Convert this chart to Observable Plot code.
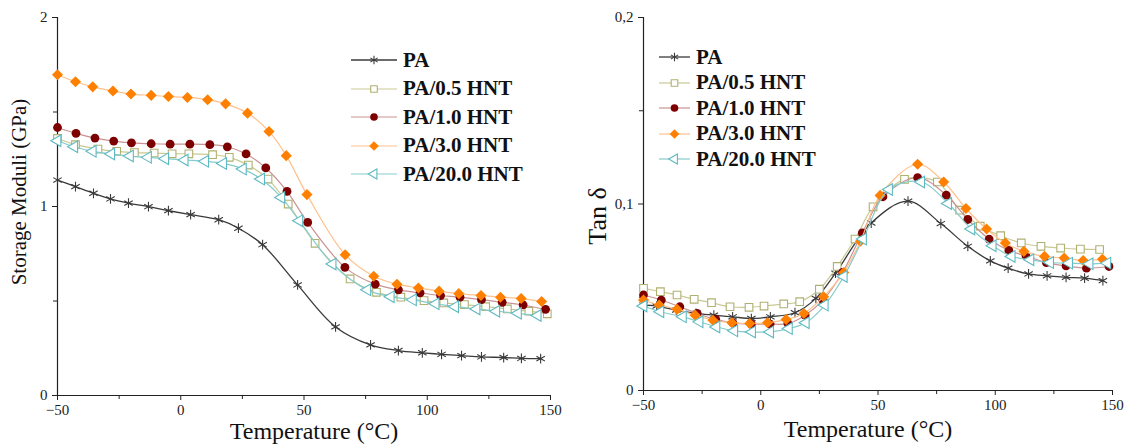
<!DOCTYPE html>
<html><head><meta charset="utf-8">
<script src="https://cdn.jsdelivr.net/npm/d3@7"></script>
<script src="https://cdn.jsdelivr.net/npm/@observablehq/plot@0.6"></script>
<style>
body{margin:0;background:#fff;}
#wrap{position:relative;width:1129px;height:446px;overflow:hidden;font-family:"Liberation Serif",serif;background:#fff;}
.panel{position:absolute;top:0;}
.lbl{position:absolute;white-space:nowrap;color:#111;line-height:1;}
.row{position:absolute;display:flex;align-items:center;white-space:nowrap;font-weight:bold;font-size:21px;color:#111;line-height:1;}
.row svg{margin-right:6px;}
</style></head><body><div id="wrap"></div>
<script>
// ---------- data ----------
const seriesNames = ["PA", "PA/0.5 HNT", "PA/1.0 HNT", "PA/3.0 HNT", "PA/20.0 HNT"];
const xTicks = [-50, 0, 50, 100, 150];
const xMinorTicks = [-25, 25, 75, 125];
const smTicks = [0, 1, 2];
const smMinorTicks = [0.5, 1.5];
const tanTicks = [0, 0.1, 0.2];
const tanMinorTicks = [0.05, 0.15];

// Storage modulus (GPa)
const smT_PA   = [-50,-42.7,-35.4,-28.5,-21.2,-13.1,-5,4,15.4,23.4,33.2,47.4,62.8,77,88.3,98,105.8,113.9,122,131,138.2,146];
const smV_PA   = [1.14,1.105,1.07,1.04,1.018,0.999,0.978,0.957,0.93,0.885,0.798,0.585,0.363,0.268,0.238,0.226,0.218,0.211,0.204,0.201,0.196,0.195];
const smT_05   = [-50,-42.7,-33.6,-26,-18.8,-10.8,-3.5,3.3,12.9,19.7,27.4,35.4,43.6,54.5,68.7,79.4,89.3,98.7,106.7,115.1,123.7,132.5,141.2,148.7];
const smV_05   = [1.36,1.327,1.304,1.292,1.285,1.283,1.279,1.279,1.274,1.26,1.219,1.145,1.013,0.805,0.617,0.546,0.52,0.502,0.49,0.481,0.47,0.458,0.446,0.432];
const smT_10   = [-50,-42.5,-34.8,-27.2,-20,-12,-4.3,3.7,11.8,18.9,26.5,34.5,43.1,51.5,66.6,78.9,88.3,97.1,105.4,113.3,122,130.4,138.9,148];
const smV_10   = [1.418,1.387,1.362,1.346,1.337,1.332,1.33,1.33,1.327,1.316,1.278,1.204,1.08,0.916,0.678,0.589,0.559,0.543,0.529,0.52,0.507,0.493,0.479,0.456];
const smT_30   = [-50,-42.7,-35.7,-27.5,-20.2,-12,-5,2.7,10.9,18.2,27.1,35.8,42.8,51.2,66.7,78.3,87.7,96.4,104.8,112.8,121.8,129.7,138.1,146.4];
const smV_30   = [1.697,1.66,1.633,1.611,1.595,1.588,1.582,1.577,1.565,1.543,1.494,1.397,1.269,1.063,0.745,0.631,0.589,0.569,0.552,0.539,0.529,0.52,0.513,0.497];
const smT_200  = [-50,-43.2,-35.7,-28.2,-20.6,-13.3,-6.3,1.6,9.9,17.2,25.2,32.6,40.8,48.1,61.6,75.7,85.2,94.2,103.4,111.3,120,128,136.8,144.8];
const smV_200  = [1.348,1.316,1.292,1.278,1.267,1.26,1.253,1.246,1.239,1.228,1.198,1.145,1.048,0.925,0.696,0.559,0.523,0.506,0.485,0.47,0.458,0.446,0.435,0.423];

// Tan delta
const tdT_PA   = [-50,-44.4,-36,-27.6,-20,-12,-4,4.1,14.6,23.5,31.9,47.1,62.8,76.8,88.3,97.9,105.5,114.2,122.1,130.2,138.1,145.9];
const tdV_PA   = [0.0458,0.0453,0.0431,0.0413,0.0404,0.0395,0.0386,0.0395,0.0417,0.0494,0.0629,0.0898,0.1015,0.0895,0.0773,0.0695,0.0656,0.0625,0.0615,0.0607,0.0602,0.0589];
const tdT_05   = [-50,-42.8,-35.7,-28.4,-21,-13.1,-5,1.4,9.8,16.6,25,32.6,40.2,47.9,61.3,75.3,84.8,93.6,102.3,111.1,119.5,127.9,136.3,144.5];
const tdV_05   = [0.0548,0.053,0.0512,0.0489,0.0471,0.0449,0.0446,0.0453,0.0464,0.0476,0.0543,0.0665,0.0812,0.0985,0.1132,0.1118,0.0967,0.0881,0.083,0.0791,0.0773,0.0764,0.0758,0.0756];
const tdT_10   = [-50,-42.4,-34.5,-27.1,-19.2,-11.9,-4,4,11.6,18.9,26.5,34.9,43.3,52.1,66.9,79.1,88.3,97.4,105.8,113.1,121.8,130.2,138.9,148.5];
const tdV_10   = [0.0512,0.0485,0.0449,0.0413,0.0381,0.0363,0.0356,0.0356,0.0359,0.0404,0.0485,0.0633,0.0845,0.1039,0.1141,0.1048,0.0917,0.0812,0.0751,0.0722,0.0686,0.0668,0.0656,0.0665];
const tdT_30   = [-50,-43.3,-35.7,-28,-20.4,-12.3,-4.7,2.9,10.8,18.4,26.8,35.4,42.5,50.9,66.9,78,87.5,96.3,104.3,112.2,121,129.4,137.5,145.7];
const tdV_30   = [0.0485,0.0458,0.0435,0.0404,0.0377,0.0363,0.0359,0.0363,0.0381,0.0413,0.0503,0.0633,0.08,0.1046,0.1213,0.1118,0.0976,0.0866,0.0791,0.0746,0.0719,0.071,0.0697,0.0704];
const tdT_200  = [-50,-42.8,-33.2,-26.1,-18.9,-11.3,-3.7,4,12,19.2,27.3,35.4,43.6,54.7,68.4,79.9,89.8,98.9,107,115,123.4,131.5,140.2,147.8];
const tdV_200  = [0.0453,0.0422,0.0395,0.0368,0.0341,0.032,0.0314,0.0314,0.0332,0.0363,0.0458,0.0611,0.0812,0.1078,0.1118,0.1003,0.0866,0.0776,0.0719,0.0701,0.0686,0.0683,0.0679,0.0683];

// ---------- styles ----------
const styles = {
  "PA":          {line:"#3a3a3a", symbol:"asterisk", fill:"none",    stroke:"#3a3a3a", r:4.6, lw:1.3, rotate:0},
  "PA/0.5 HNT":  {line:"#c9c995", symbol:"square",   fill:"white",   stroke:"#b0b070", r:4.3, lw:1.2, rotate:0},
  "PA/1.0 HNT":  {line:"#c99393", symbol:"circle",   fill:"#7d0000", stroke:"none",    r:4.4, lw:1.2, rotate:0},
  "PA/3.0 HNT":  {line:"#ffc08c", symbol:"diamond2", fill:"#ff8000", stroke:"none",    r:5.0, lw:1.2, rotate:0},
  "PA/20.0 HNT": {line:"#86cccc", symbol:"triangle", fill:"white",   stroke:"#5fb9c2", r:4.3, lw:1.2, rotate:-90}
};
const d3sym = {asterisk:d3.symbolAsterisk, square:d3.symbolSquare, circle:d3.symbolCircle, diamond2:d3.symbolDiamond2, triangle:d3.symbolTriangle};

function rows(names, Ts, Vs) {
  return names.map((n, i) => Ts[i].map((t, j) => ({series:n, T:t, V:Vs[i][j]})));
}
const smData = rows(seriesNames, [smT_PA, smT_05, smT_10, smT_30, smT_200], [smV_PA, smV_05, smV_10, smV_30, smV_200]);
const tdData = rows(seriesNames, [tdT_PA, tdT_05, tdT_10, tdT_30, tdT_200], [tdV_PA, tdV_05, tdV_10, tdV_30, tdV_200]);

function panel(o) {
  const marks = [];
  marks.push(Plot.ruleX([-50], {stroke:"#222", strokeWidth:1.2}));
  marks.push(Plot.ruleY([o.yDomain[0]], {stroke:"#222", strokeWidth:1.2}));
  marks.push(Plot.axisX(xTicks, {tickSize:5, tickPadding:4, label:null, stroke:"#222", fill:"#222"}));
  marks.push(Plot.axisX(xMinorTicks, {tickSize:4, tickFormat:() => "", label:null, stroke:"#222"}));
  marks.push(Plot.axisY(o.yTicks, {tickSize:5, tickPadding:5, label:null, tickFormat:o.yFmt, stroke:"#222", fill:"#222"}));
  marks.push(Plot.axisY(o.yMinor, {tickSize:4, tickFormat:() => "", label:null, stroke:"#222"}));
  o.data.forEach((d, i) => {
    const s = styles[seriesNames[i]];
    marks.push(Plot.line(d, {x:"T", y:"V", stroke:s.line, strokeWidth:s.lw, curve:"catmull-rom"}));
    marks.push(Plot.dot(d, {x:"T", y:"V", symbol:s.symbol, r:s.r, fill:s.fill, stroke:s.stroke, strokeWidth:1.1, rotate:s.rotate}));
  });
  return Plot.plot({
    width:o.width, height:446,
    marginLeft:o.mL, marginRight:o.mR, marginTop:o.mT, marginBottom:o.mB,
    x:{domain:[-50,150]}, y:{domain:o.yDomain},
    style:{fontFamily:"Liberation Serif, serif", fontSize:"15px", color:"#222", background:"transparent", overflow:"visible"},
    marks
  });
}

const wrap = document.getElementById("wrap");
const left = panel({data:smData, yDomain:[0,2], yTicks:smTicks, yMinor:smMinorTicks, yFmt:d => String(d),
  width:564, mL:57, mR:14, mT:17, mB:51});
left.classList.add("panel"); left.style.left = "0px";
wrap.appendChild(left);
const right = panel({data:tdData, yDomain:[0,0.2], yTicks:tanTicks, yMinor:tanMinorTicks,
  yFmt:d => d === 0 ? "0" : d.toFixed(1).replace(".", ","),
  width:565, mL:79, mR:17, mT:17, mB:56});
right.classList.add("panel"); right.style.left = "564px";
wrap.appendChild(right);

// axis titles
function label(text, x, y, size, rot) {
  const d = document.createElement("div");
  d.className = "lbl"; d.textContent = text;
  d.style.left = x + "px"; d.style.top = y + "px"; d.style.fontSize = size + "px";
  d.style.transform = "translate(-50%,-50%)" + (rot ? " rotate(-90deg)" : "");
  wrap.appendChild(d);
}
label("Temperature (°C)", 314, 431, 24, false);
label("Temperature (°C)", 868, 429, 24, false);
label("Storage Moduli (GPa)", 19, 192, 21, true);
label("Tan δ", 598, 216, 26, true);

// legends
function legend(x, y0, dy, lineW) {
  seriesNames.forEach((n, i) => {
    const s = styles[n];
    const row = document.createElement("div");
    row.className = "row";
    row.style.left = x + "px"; row.style.top = (y0 + i * dy - 11) + "px"; row.style.height = "22px";
    const svg = d3.create("svg").attr("width", lineW).attr("height", 20);
    svg.append("line").attr("x1", 0).attr("x2", lineW).attr("y1", 10).attr("y2", 10)
      .attr("stroke", s.line).attr("stroke-width", s.lw);
    svg.append("path").attr("d", d3.symbol(d3sym[s.symbol], Math.PI * s.r * s.r * 0.75)())
      .attr("transform", `translate(${lineW/2},10) rotate(${s.rotate})`)
      .attr("fill", s.fill).attr("stroke", s.stroke).attr("stroke-width", 1.1);
    row.appendChild(svg.node());
    const t = document.createElement("span"); t.textContent = n;
    row.appendChild(t);
    wrap.appendChild(row);
  });
}
legend(351, 60, 28.5, 46);
legend(659, 57, 25.5, 31);
</script>
</body></html>
